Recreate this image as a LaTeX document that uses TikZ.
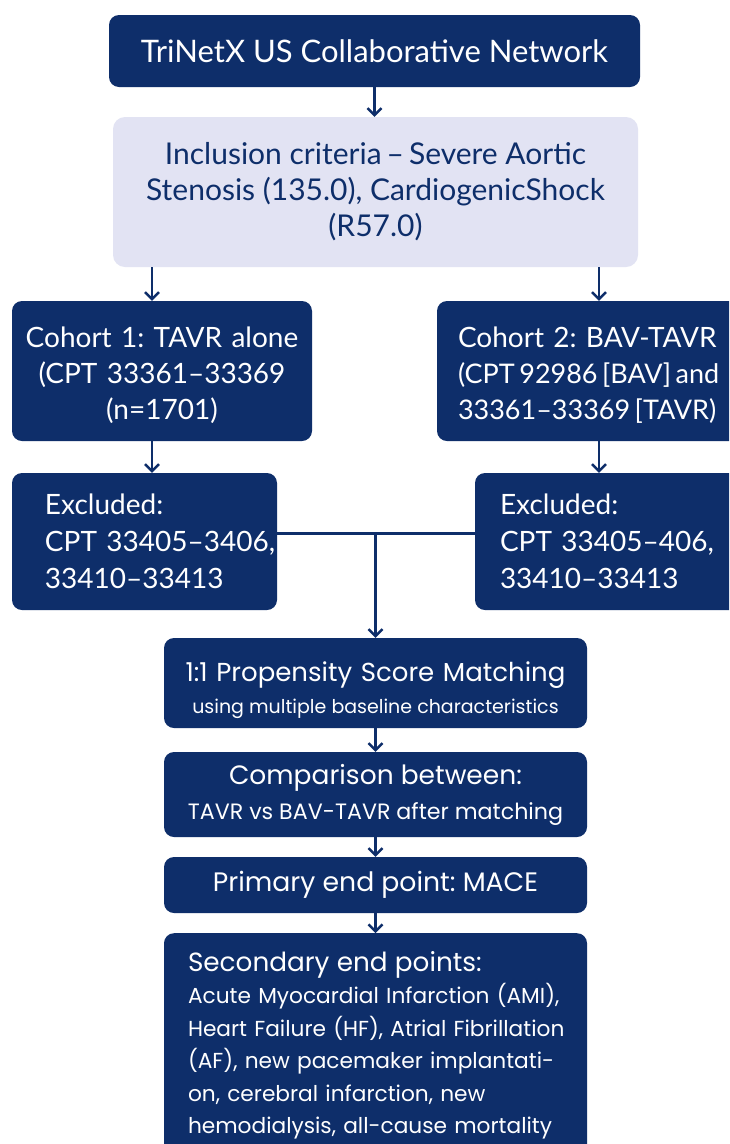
\documentclass[tikz,border=0pt]{standalone}
\usepackage{fontspec}
\setmainfont{Lato}
\newfontfamily\widefont{Poppins}
\usetikzlibrary{arrows.meta}
\definecolor{navyblue}{RGB}{14,46,106}
\definecolor{paleviolet}{RGB}{226,227,243}
\frenchspacing

\begin{document}
\begin{tikzpicture}[x=1pt, y=-1pt,
    darkbox/.style={fill=navyblue, text=white, rounded corners=10pt, inner sep=0pt, align=center},
    lightbox/.style={fill=paleviolet, text=navyblue, rounded corners=12pt, inner sep=0pt, align=center},
    flow/.style={draw=navyblue, line width=2.4pt, -{Straight Barb[length=7pt, width=14pt]}},
    joint/.style={draw=navyblue, line width=2.4pt}]
    	\fill[white] (0,0) rectangle (729,1144);
    	\clip (0,0) rectangle (729,1144);
    	\node[darkbox, minimum width=531pt, minimum height=72pt, font=\fontsize{31}{36}\selectfont] (network) at (374.5,51) {TriNetX US Collaborative Network};
    	\node[lightbox, minimum width=525pt, minimum height=150pt, font=\fontsize{30}{36}\selectfont] (incl) at (375.5,192) {Inclusion criteria\,–\,Severe Aortic\\Stenosis (135.0), CardiogenicShock\\(R57.0)};
    	\node[darkbox, text width=300pt, minimum height=140pt, text height=30pt, text depth=77pt, font=\fontsize{28}{36}\selectfont] (cohortA) at (162,371) {\mbox{Cohort 1: TAVR alone}\\\mbox{(CPT 33361–33369}\\\mbox{(n=1701)}};
    	\node[darkbox, align=left, inner xsep=21pt, text width=282pt, minimum height=140pt, text height=30pt, text depth=77pt, font=\fontsize{28}{36}\selectfont] (cohortB) at (599,371) {\mbox{Cohort 2: BAV-TAVR}\\\mbox{\fontsize{27}{36}\selectfont(CPT\,92986\,[BAV]\,and}\\\mbox{\fontsize{27}{36}\selectfont33361–33369\,[TAVR)}};
    	\node[darkbox, align=left, inner xsep=33pt, text width=199pt, minimum height=137pt, font=\fontsize{28}{37}\selectfont] (exclA) at (144.5,541.5) {\mbox{Excluded:}\\\mbox{CPT 33405–3406,}\\\mbox{33410–33413}};
    	\node[darkbox, align=left, inner xsep=25pt, text width=235pt, minimum height=137pt, font=\fontsize{28}{37}\selectfont] (exclB) at (617.5,541.5) {\mbox{Excluded:}\\\mbox{CPT 33405–406,}\\\mbox{33410–33413}};
    	\node[darkbox, text width=423pt, minimum height=90pt, text height=34pt, text depth=38pt, font=\widefont\fontsize{26}{32}\selectfont] (psm) at (375.5,683) {\mbox{1:1 Propensity Score Matching}\\\mbox{\fontsize{19}{32}\selectfont\spaceskip=0pt\relax using multiple baseline characteristics}};
    	\node[darkbox, minimum width=423pt, minimum height=85pt, font=\widefont\fontsize{26.5}{35}\selectfont] (compare) at (375.5,794.5) {Comparison between:\\{\fontsize{22.2}{35}\selectfont TAVR vs BAV-TAVR after matching}};
    	\node[darkbox, minimum width=423pt, minimum height=56pt, font=\widefont\fontsize{26.7}{30}\selectfont] (primary) at (375.5,885) {Primary end point: MACE};
    	\node[darkbox, anchor=north, align=left, inner xsep=24pt, inner ysep=18pt, text width=375pt, font=\widefont\fontsize{21.7}{32.5}\selectfont] (secondary) at (375.5,933) {{\fontsize{26.3}{32.5}\selectfont Secondary end points:}\\\mbox{Acute Myocardial Infarction (AMI),}\\\mbox{Heart Failure (HF), Atrial Fibrillation}\\\mbox{(AF), new pacemaker implantati-}\\\mbox{on, cerebral infarction, new}\\\mbox{hemodialysis, all-cause mortality}\\[10pt]};
    	\coordinate (leftlane) at ([xshift=-10pt]cohortA.north);
    	\coordinate (bridge) at ([yshift=8pt]exclA.east);
    	\draw[flow] (network.south) -- (network.south |- incl.north);
    	\draw[flow] (incl.south -| leftlane) -- (leftlane);
    	\draw[flow] (incl.south -| cohortB.north) -- (cohortB.north);
    	\draw[flow] (cohortA.south -| leftlane) -- (exclA.north -| leftlane);
    	\draw[flow] (cohortB.south) -- (cohortB.south |- exclB.north);
    	\draw[joint] (bridge) -- (bridge -| exclB.west);
    	\coordinate (merge) at (bridge -| psm.north);
    	\draw[flow] (merge) -- (psm.north);
    	\draw[flow] (psm.south) -- (compare.north);
    	\draw[flow] (compare.south) -- (primary.north);
    	\draw[flow] (primary.south) -- (secondary.north);
\end{tikzpicture}
\end{document}
